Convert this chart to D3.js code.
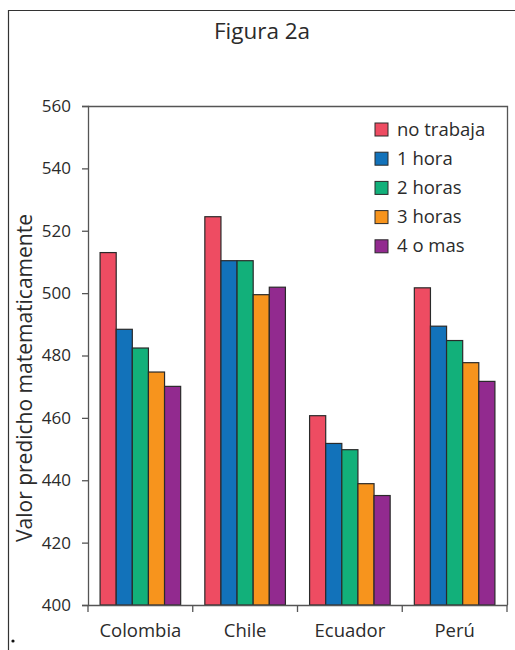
<!DOCTYPE html>
<html><head><meta charset="utf-8">
<script src="https://cdn.jsdelivr.net/npm/d3@7"></script>
<style>body{margin:0;background:#fff}svg{display:block}text{font-family:"Open Sans","Noto Sans",sans-serif;fill:#2b2b2b}</style>
</head><body><svg id="c" width="515" height="650"></svg>
<script>
const categories = ["Colombia","Chile","Ecuador","Perú"];
const seriesNames = ["no trabaja","1 hora","2 horas","3 horas","4 o mas"];
const noTrabaja = [513, 524.5, 460.7, 501.7];
const unaHora   = [488.4, 510.4, 451.8, 489.4];
const dosHoras  = [482.4, 510.4, 449.8, 484.8];
const tresHoras = [474.7, 499.5, 438.9, 477.7];
const cuatroMas = [470.1, 501.9, 435.1, 471.7];
const yTicks = [400,420,440,460,480,500,520,540,560];
const colors = ["#EE4C62","#1272BA","#12B07A","#F7941D","#922A8F"];
const seriesValues = [noTrabaja, unaHora, dosHoras, tresHoras, cuatroMas];

const FONT = '"Open Sans","Noto Sans",sans-serif';
const svg = d3.select("#c");
const L = 88, R = 507, T = 106, B = 605;
const x = d3.scaleBand().domain(categories).range([L, R]).paddingInner(0).paddingOuter(0);
const y = d3.scaleLinear().domain([400, 560]).range([B, T]);
const xs = d3.scaleBand().domain(seriesNames).range([0, x.bandwidth()]).paddingOuter(0.75).paddingInner(0);

// outer frame (left and top)
svg.append("path").attr("d", "M8.5,650V10.5H515").attr("fill","none").attr("stroke","#333").attr("stroke-width",1.2);
svg.append("circle").attr("cx",13).attr("cy",641).attr("r",1.6).attr("fill","#111");

// title
svg.append("text").attr("x",262).attr("y",39).attr("text-anchor","middle").attr("font-size",22.5).text("Figura 2a");

// plot frame top & right
svg.append("path").attr("d", `M${L},${T+0.5}H${R+0.5}V${B}`).attr("fill","none").attr("stroke","#555").attr("stroke-width",1.3);

// bars
categories.forEach((c, ci) => {
  seriesNames.forEach((s, si) => {
    const v = seriesValues[si][ci];
    svg.append("rect")
      .attr("x", x(c) + xs(s)).attr("y", y(v))
      .attr("width", xs.bandwidth()).attr("height", y(400) - y(v))
      .attr("fill", colors[si]).attr("stroke", "#2a2a2a").attr("stroke-width", 1.2);
  });
});

// y axis
const ya = svg.append("g").attr("transform", `translate(${L},0)`)
  .call(d3.axisLeft(y).tickValues(yTicks).tickSize(6).tickPadding(11).tickFormat(d3.format("d")));
ya.select(".domain").attr("stroke","#555").attr("stroke-width",1.3);
ya.selectAll(".tick line").attr("stroke","#555").attr("stroke-width",1.3);
ya.selectAll("text").attr("font-size",17).style("font-family",FONT).attr("fill","#2b2b2b");

// x axis
const xa = svg.append("g").attr("transform", `translate(0,${B})`)
  .call(d3.axisBottom(x).tickSize(0).tickPadding(19));
xa.select(".domain").attr("stroke","#555").attr("stroke-width",1.3);
xa.selectAll("text").attr("font-size",18.5).style("font-family",FONT).attr("fill","#2b2b2b");
const bounds = categories.map(c => x(c)).concat([R]);
svg.append("g").selectAll("line").data(bounds).join("line")
  .attr("x1", d => d).attr("x2", d => d).attr("y1", B).attr("y2", B + 7)
  .attr("stroke","#555").attr("stroke-width",1.3);

// y label
svg.append("text").attr("transform","translate(32,378) rotate(-90)").attr("text-anchor","middle")
  .attr("font-size",21).text("Valor predicho matematicamente");

// legend
const lg = svg.append("g");
seriesNames.forEach((s, i) => {
  const yy = 123 + i * 29.2;
  lg.append("rect").attr("x",375).attr("y",yy).attr("width",13).attr("height",13)
    .attr("fill",colors[i]).attr("stroke","#2a2a2a").attr("stroke-width",1);
  lg.append("text").attr("x",397).attr("y",yy+12.5).attr("font-size",18.5).text(s);
});
</script></body></html>
